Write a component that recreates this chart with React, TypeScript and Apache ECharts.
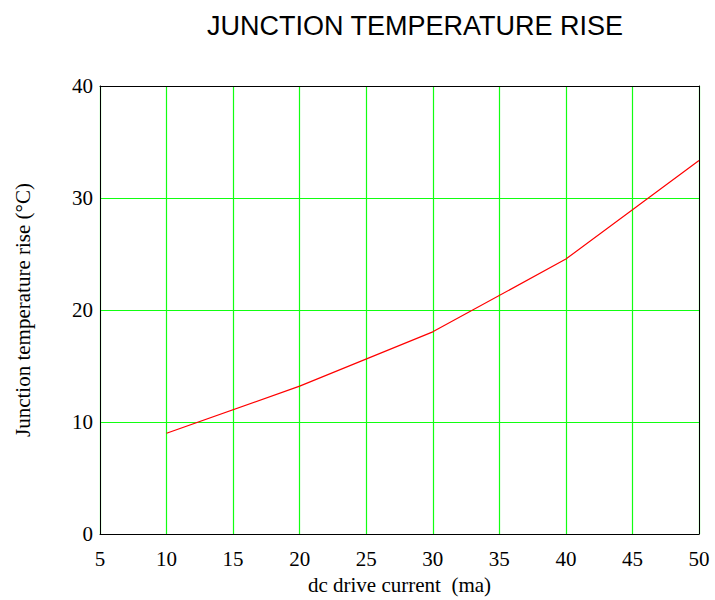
import React, { useEffect, useRef } from "react";
import * as echarts from "echarts";

const currentMa = [10, 20, 30, 40, 50];
const tempRise = [9.0, 13.2, 18.05, 24.55, 33.35];
const titleText = "JUNCTION TEMPERATURE RISE";
const xName = "dc drive current  (ma)";
const yName = "Junction temperature rise (°C)";

export default function App() {
  const ref = useRef<HTMLDivElement>(null);
  useEffect(() => {
    const chart = echarts.init(ref.current!, null, { renderer: "svg" });
    const serif = "'Liberation Serif', 'Times New Roman', serif";
    const green = "#11ff11";
    chart.setOption({
      animation: false,
      backgroundColor: "#ffffff",
      title: {
        text: titleText,
        left: 410,
        top: 7,
        textAlign: "center",
        textStyle: {
          fontFamily: "'Liberation Sans', Arial, sans-serif",
          fontWeight: "normal",
          fontSize: 27,
          color: "#000",
        },
      },
      grid: {
        left: 100,
        right: 16,
        top: 86,
        bottom: 66,
        show: false,
        containLabel: false,
        outerBoundsMode: "none",
      },
      xAxis: [
        {
          type: "value",
          min: 5,
          max: 50,
          interval: 5,
          name: xName,
          nameLocation: "middle",
          nameGap: 40,
          nameTextStyle: { fontFamily: serif, fontSize: 21, color: "#000" },
          axisLine: { show: true, onZero: false, lineStyle: { color: "#000", width: 1 } },
          axisTick: { show: false },
          axisLabel: { fontFamily: serif, fontSize: 21, color: "#000", margin: 14 },
          splitLine: { show: true, lineStyle: { color: green, width: 1.2 } },
        },
        {
          type: "value",
          position: "top",
          min: 5,
          max: 50,
          interval: 5,
          axisLine: { show: true, onZero: false, lineStyle: { color: "#000", width: 1 } },
          axisTick: { show: false },
          axisLabel: { show: false },
          splitLine: { show: false },
        },
      ],
      yAxis: [
        {
          type: "value",
          min: 0,
          max: 40,
          interval: 10,
          name: yName,
          nameLocation: "middle",
          nameGap: 67,
          nameTextStyle: { fontFamily: serif, fontSize: 21, color: "#000" },
          axisLine: { show: true, onZero: false, lineStyle: { color: "#000", width: 1 } },
          axisTick: { show: false },
          axisLabel: { fontFamily: serif, fontSize: 21, color: "#000", margin: 7, padding: [4, 0, 0, 0] },
          splitLine: { show: true, lineStyle: { color: green, width: 1.2 } },
        },
        {
          type: "value",
          position: "right",
          min: 0,
          max: 40,
          interval: 10,
          axisLine: { show: true, onZero: false, lineStyle: { color: "#000", width: 1 } },
          axisTick: { show: false },
          axisLabel: { show: false },
          splitLine: { show: false },
        },
      ],
      series: [
        {
          type: "line",
          xAxisIndex: 0,
          yAxisIndex: 0,
          data: currentMa.map((x, i) => [x, tempRise[i]]),
          showSymbol: false,
          symbol: "none",
          lineStyle: { color: "#ff0000", width: 1.2 },
          z: 5,
        },
      ],
    });
    return () => chart.dispose();
  }, []);
  return <div ref={ref} style={{ width: 715, height: 600, position: "absolute", left: 0, top: 0 }} />;
}
